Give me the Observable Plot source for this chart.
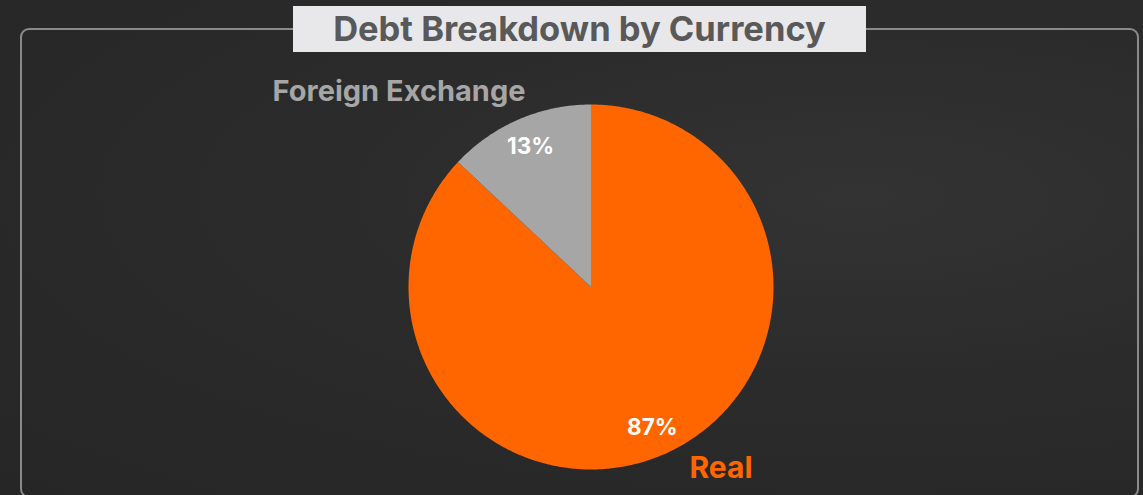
<!DOCTYPE html>
<html>
<head>
<meta charset="utf-8">
<script src="https://cdn.jsdelivr.net/npm/d3@7"></script>
<script src="https://cdn.jsdelivr.net/npm/@observablehq/plot@0.6"></script>
<style>
  html, body { margin: 0; padding: 0; }
  body {
    width: 1143px; height: 495px; overflow: hidden; position: relative;
    background: radial-gradient(ellipse at 75% 40%, #333333 0%, #2b2b2b 45%, #262626 100%);
    font-family: Inter, sans-serif;
  }
  #frame {
    position: absolute; left: 20px; top: 28px; width: 1119px; height: 470px;
    box-sizing: border-box; border: 2px solid #8a8a8a; border-radius: 9px;
  }
  #chart { position: absolute; left: 0; top: 0; }
  #title {
    position: absolute; left: 293px; top: 6px; width: 573px; height: 46px;
    background: #e8e8eb; color: #595959; font-weight: 700; font-size: 34.5px;
    line-height: 46px; text-align: center; font-family: Inter, sans-serif;
  }
</style>
</head>
<body>
<div id="frame"></div>
<div id="chart"></div>
<div id="title"></div>
<script>
const titleText = "Debt Breakdown by Currency";
const categories = ["Real", "Foreign Exchange"];
const shares = [87, 13];
const pctLabels = ["87%", "13%"];
const sliceColors = ["#FF6600", "#A6A6A6"];

document.getElementById("title").textContent = titleText;

const rows = categories.map((c, i) => ({category: c, value: shares[i], pct: pctLabels[i], color: sliceColors[i]}));
const arcs = d3.pie().sort(null).value(d => d.value)(rows);

const slicePts = [];
arcs.forEach(a => {
  const n = Math.max(2, Math.ceil((a.endAngle - a.startAngle) / 0.01));
  for (let k = 0; k <= n; k++) {
    const t = a.startAngle + (a.endAngle - a.startAngle) * k / n;
    slicePts.push({category: a.data.category, color: a.data.color, x: Math.sin(t), y: Math.cos(t), cx: 0, cy: 0});
  }
});

const mids = arcs.map(a => {
  const m = (a.startAngle + a.endAngle) / 2;
  return {category: a.data.category, pct: a.data.pct, color: a.data.color, m};
});
const inner = mids.map(d => ({...d, x: 0.84 * Math.sin(d.m), y: 0.84 * Math.cos(d.m)}));
const edge = mids.map(d => ({...d, x: Math.sin(d.m), y: Math.cos(d.m)}));

const font = "Inter, sans-serif";
const plot = Plot.plot({
  width: 1143, height: 495, margin: 0,
  x: {domain: [-1, 1], range: [408.5, 773.5], axis: null},
  y: {domain: [-1, 1], range: [469.5, 104.5], axis: null},
  color: {type: "identity"},
  style: {background: "transparent", overflow: "visible"},
  marks: [
    Plot.area(slicePts, {x1: "x", y1: "y", x2: "cx", y2: "cy", z: "category", fill: "color", curve: "linear"}),
    Plot.text(inner, {x: "x", y: "y", text: "pct", fill: "white", fontSize: 22.5, fontWeight: 700, fontFamily: font}),
    Plot.text(edge.filter(d => d.category === "Foreign Exchange"), {x: "x", y: "y", text: "category", fill: "color", fontSize: 29, fontWeight: 700, fontFamily: font, dx: -120, dy: -28}),
    Plot.text(edge.filter(d => d.category === "Real"), {x: "x", y: "y", text: "category", fill: "color", fontSize: 30, fontWeight: 700, fontFamily: font, dx: 57, dy: 13})
  ]
});
document.getElementById("chart").appendChild(plot);
</script>
</body>
</html>
